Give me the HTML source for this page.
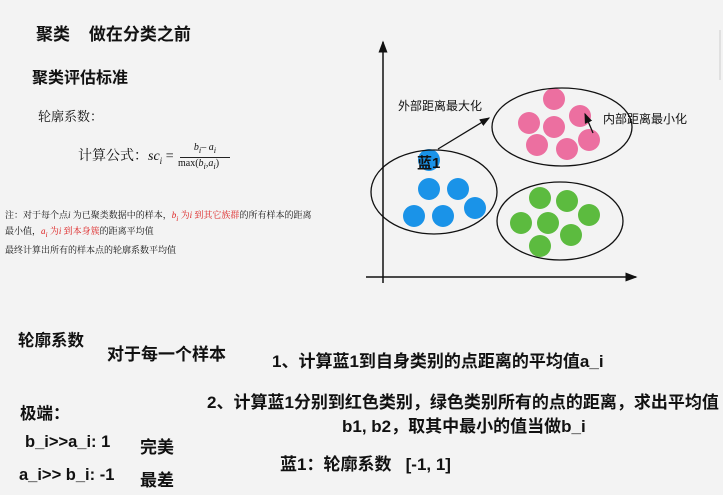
<!DOCTYPE html>
<html><head><meta charset="utf-8"><style>
body{margin:0;width:723px;height:495px;background:#f3f3f3;position:relative;overflow:hidden;font-family:"Liberation Sans","Noto Sans CJK SC",sans-serif;color:#111}
.t{position:absolute;white-space:nowrap}
.b{font-weight:bold}
.s{font-family:"Liberation Serif","Noto Serif CJK SC",serif}
.r{color:#d22}
</style></head><body>
<div class="t b" style="left:36px;top:20px;font-size:17px">聚类&nbsp;&nbsp;&nbsp;&nbsp;做在分类之前</div>
<div class="t b" style="left:32px;top:64px;font-size:16px">聚类评估标准</div>
<div class="t s" style="left:38px;top:106px;font-size:13px">轮廓系数：</div>
<div class="t s" style="left:78px;top:145px;font-size:14px">计算公式：<i>sc<sub style="font-size:9px">i</sub></i> =</div>
<div class="t s" style="left:180px;top:142px;font-size:10px;width:50px;text-align:center"><i>b<sub>i</sub>– a<sub>i</sub></i></div>
<div style="position:absolute;left:180px;top:157px;width:50px;border-top:1px solid #222"></div>
<div class="t s" style="left:178px;top:158px;font-size:10px">max(<i>b<sub>i</sub></i>,<i>a<sub>i</sub></i>)</div>
<div class="t s" style="left:5px;top:209px;font-size:9px;line-height:13px">注：对于每个点<i>i</i> 为已聚类数据中的样本，<span class="r"><i>b<sub>i</sub></i> 为<i>i</i> 到其它族群</span>的所有样本的距离<br>最小值，<span class="r"><i>a<sub>i</sub></i> 为<i>i</i> 到本身簇</span>的距离平均值</div>
<div class="t s" style="left:5px;top:243px;font-size:9px">最终计算出所有的样本点的轮廓系数平均值</div>

<svg style="position:absolute;left:0;top:0" width="723" height="495">
<defs><marker id="a" markerWidth="8" markerHeight="8" refX="7" refY="4" orient="auto"><path d="M0,1 L8,4 L0,7 z" fill="#111"/></marker></defs>
<line x1="383" y1="283" x2="383" y2="42" stroke="#111" stroke-width="1.5" marker-end="url(#a)"/>
<line x1="366" y1="277" x2="636" y2="277" stroke="#111" stroke-width="1.5" marker-end="url(#a)"/>
<line x1="720" y1="30" x2="720" y2="80" stroke="#ccc"/>
<g fill="#1a93e8"><circle cx="429" cy="160" r="11"/><circle cx="429" cy="189" r="11"/><circle cx="458" cy="189" r="11"/><circle cx="414" cy="216" r="11"/><circle cx="443" cy="216" r="11"/><circle cx="475" cy="208" r="11"/></g>
<g fill="#ec6fa0"><circle cx="554" cy="99" r="11"/><circle cx="580" cy="116" r="11"/><circle cx="529" cy="123" r="11"/><circle cx="554" cy="127" r="11"/><circle cx="537" cy="145" r="11"/><circle cx="567" cy="149" r="11"/><circle cx="589" cy="140" r="11"/></g>
<g fill="#5cbb3f"><circle cx="540" cy="198" r="11"/><circle cx="567" cy="201" r="11"/><circle cx="589" cy="215" r="11"/><circle cx="521" cy="223" r="11"/><circle cx="548" cy="223" r="11"/><circle cx="571" cy="235" r="11"/><circle cx="540" cy="246" r="11"/></g>
<g fill="none" stroke="#111" stroke-width="1.3"><ellipse cx="434" cy="192" rx="63" ry="42"/><ellipse cx="562" cy="127" rx="70" ry="39"/><ellipse cx="560" cy="221" rx="63" ry="39"/></g>
<line x1="438" y1="149" x2="489" y2="118" stroke="#111" stroke-width="1.3" marker-end="url(#a)"/>
<line x1="593" y1="133" x2="585" y2="114" stroke="#111" stroke-width="1.3" marker-end="url(#a)"/>
</svg>
<div class="t" style="left:398px;top:97px;font-size:12px">外部距离最大化</div>
<div class="t" style="left:603px;top:110px;font-size:12px">内部距离最小化</div>
<div class="t b" style="left:417px;top:152px;font-size:15px">蓝1</div>

<div class="t b" style="left:18px;top:327px;font-size:16.5px">轮廓系数</div>
<div class="t b" style="left:107px;top:340px;font-size:17px">对于每一个样本</div>
<div class="t b" style="left:272px;top:347px;font-size:17px">1、计算蓝1到自身类别的点距离的平均值a_i</div>
<div class="t b" style="left:20px;top:400px;font-size:16.5px">极端：</div>
<div class="t b" style="left:207px;top:388px;font-size:17px">2、计算蓝1分别到红色类别，绿色类别所有的点的距离，求出平均值</div>
<div class="t b" style="left:342px;top:412px;font-size:17px">b1, b2，取其中最小的值当做b_i</div>
<div class="t b" style="left:25px;top:433px;font-size:16.5px">b_i&gt;&gt;a_i: 1</div>
<div class="t b" style="left:140px;top:433px;font-size:17px">完美</div>
<div class="t b" style="left:280px;top:450px;font-size:17px">蓝1：轮廓系数&nbsp;&nbsp;&nbsp;[-1, 1]</div>
<div class="t b" style="left:19px;top:466px;font-size:16.5px">a_i&gt;&gt; b_i: -1</div>
<div class="t b" style="left:140px;top:466px;font-size:17px">最差</div>
</body></html>
